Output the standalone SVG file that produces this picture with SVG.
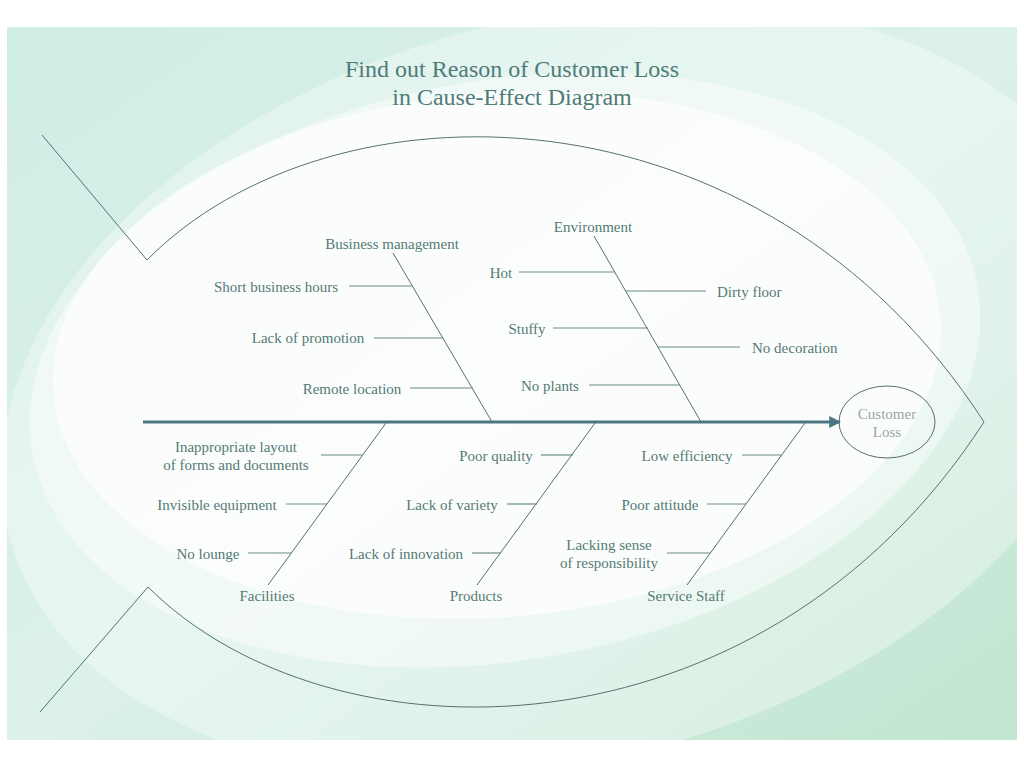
<svg xmlns="http://www.w3.org/2000/svg" width="1024" height="768" viewBox="0 0 1024 768">
<defs>
<linearGradient id="bg" x1="0" y1="0" x2="1" y2="1">
<stop offset="0" stop-color="#cfede5"/>
<stop offset="0.5" stop-color="#dcf1ea"/>
<stop offset="1" stop-color="#c0e5d0"/>
</linearGradient>
<marker id="arr" viewBox="0 0 10 10" refX="9" refY="5" markerWidth="4" markerHeight="4" orient="auto" markerUnits="strokeWidth">
<path d="M0,0 L10,5 L0,10 z" fill="#4a7682"/>
</marker>
<style>
.t{font-family:"Liberation Serif","Times New Roman",serif;font-size:15px;fill:#557a74;text-anchor:middle}
.s{text-anchor:start}
.ttl{font-family:"Liberation Serif","Times New Roman",serif;font-size:24px;fill:#4f7c78;text-anchor:middle}
.b{stroke:#55716f;stroke-width:1;fill:none}
.sb{stroke:#6a8c88;stroke-width:1.2;fill:none}
</style>
</defs>
<g id="background">
<rect x="7" y="27" width="1010" height="713" fill="url(#bg)"/>
<ellipse cx="560" cy="390" rx="570" ry="370" transform="rotate(-15 560 390)" fill="#ffffff" opacity="0.35"/>
<ellipse cx="505" cy="370" rx="480" ry="290" transform="rotate(-10 505 370)" fill="#ffffff" opacity="0.45"/>
<ellipse cx="497" cy="355" rx="445" ry="262" transform="rotate(-5 497 355)" fill="#ffffff" opacity="0.7"/>
</g>
<g id="title">
<text class="ttl" x="512" y="77">Find out Reason of Customer Loss</text>
<text class="ttl" x="512" y="105">in Cause-Effect Diagram</text>
</g>
<g id="fish-outline" class="b">
<path d="M42,135 L147,260 C330,75 760,75 984,422"/>
<path d="M40,712 L148,587 C330,768 760,768 984,422"/>
</g>
<g id="connectors">
<line x1="143" y1="422" x2="840" y2="422" stroke="#4a7682" stroke-width="3" marker-end="url(#arr)"/>
<g class="b">
<line x1="393" y1="253" x2="492" y2="422"/>
<line x1="594" y1="236" x2="701" y2="422"/>
<line x1="386" y1="423" x2="268" y2="585"/>
<line x1="595" y1="423" x2="477" y2="585"/>
<line x1="805" y1="423" x2="687" y2="585"/>
</g>
<g class="sb">
<line x1="349" y1="286" x2="413" y2="286"/>
<line x1="374" y1="338" x2="443" y2="338"/>
<line x1="410" y1="388" x2="473" y2="388"/>
<line x1="519" y1="272" x2="615" y2="272"/>
<line x1="626" y1="291" x2="706" y2="291"/>
<line x1="553" y1="328" x2="648" y2="328"/>
<line x1="658" y1="347" x2="740" y2="347"/>
<line x1="589" y1="385" x2="680" y2="385"/>
<line x1="321" y1="455" x2="363" y2="455"/>
<line x1="286" y1="504" x2="327" y2="504"/>
<line x1="248" y1="553" x2="292" y2="553"/>
<line x1="541" y1="455" x2="573" y2="455"/>
<line x1="507" y1="504" x2="537" y2="504"/>
<line x1="472" y1="553" x2="501" y2="553"/>
<line x1="742" y1="455" x2="782" y2="455"/>
<line x1="707" y1="504" x2="746" y2="504"/>
<line x1="667" y1="553" x2="710" y2="553"/>
</g>
</g>
<g id="node-customer-loss">
<ellipse cx="887" cy="422" rx="48" ry="36" fill="none" stroke="#55716f" stroke-width="1"/>
<text class="t" x="887" y="419" style="fill:#9aa5a3">Customer</text>
<text class="t" x="887" y="437" style="fill:#9aa5a3">Loss</text>
</g>
<g id="node-business-management">
<text class="t" x="392" y="249">Business management</text>
<text class="t" x="276" y="292">Short business hours</text>
<text class="t" x="308" y="343">Lack of promotion</text>
<text class="t" x="352" y="394">Remote location</text>
</g>
<g id="node-environment">
<text class="t" x="593" y="232">Environment</text>
<text class="t" x="501" y="278">Hot</text>
<text class="t s" x="717" y="297">Dirty floor</text>
<text class="t" x="527" y="334">Stuffy</text>
<text class="t s" x="752" y="353">No decoration</text>
<text class="t" x="550" y="391">No plants</text>
</g>
<g id="node-facilities">
<text class="t" x="236" y="452">Inappropriate layout</text>
<text class="t" x="236" y="470">of forms and documents</text>
<text class="t" x="217" y="510">Invisible equipment</text>
<text class="t" x="208" y="559">No lounge</text>
<text class="t" x="267" y="601">Facilities</text>
</g>
<g id="node-products">
<text class="t" x="496" y="461">Poor quality</text>
<text class="t" x="452" y="510">Lack of variety</text>
<text class="t" x="406" y="559">Lack of innovation</text>
<text class="t" x="476" y="601">Products</text>
</g>
<g id="node-service-staff">
<text class="t" x="687" y="461">Low efficiency</text>
<text class="t" x="660" y="510">Poor attitude</text>
<text class="t" x="609" y="550">Lacking sense</text>
<text class="t" x="609" y="568">of responsibility</text>
<text class="t" x="686" y="601">Service Staff</text>
</g>
</svg>
